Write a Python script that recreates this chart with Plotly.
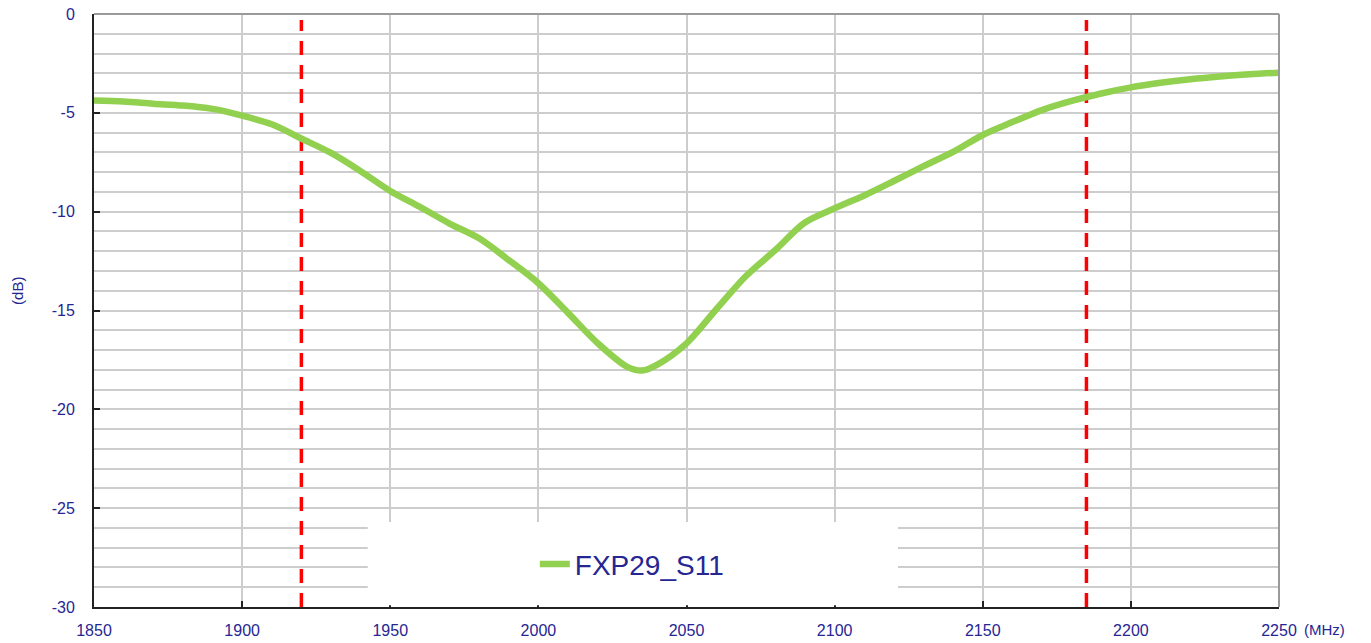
import plotly.graph_objects as go

freq_mhz = [1850, 1860, 1870, 1880, 1890, 1900, 1910, 1920, 1930, 1940,
            1950, 1960, 1970, 1980, 1990, 2000, 2010, 2020, 2030, 2035,
            2040, 2050, 2060, 2070, 2080, 2090, 2100, 2110, 2120, 2130,
            2140, 2150, 2160, 2170, 2180, 2190, 2200, 2210, 2220, 2230,
            2240, 2250]
s11_db = [-4.38, -4.43, -4.54, -4.63, -4.80, -5.14, -5.58, -6.30, -7.03, -7.95,
          -8.95, -9.76, -10.60, -11.35, -12.45, -13.62, -15.12, -16.65, -17.85, -18.04,
          -17.75, -16.66, -14.95, -13.27, -11.94, -10.55, -9.83, -9.18, -8.45, -7.70,
          -6.98, -6.12, -5.47, -4.86, -4.40, -4.02, -3.71, -3.48, -3.30, -3.16,
          -3.05, -2.97]
marker_freqs = [1920, 2185]
x_ticks = [1850, 1900, 1950, 2000, 2050, 2100, 2150, 2200, 2250]
y_ticks = [0, -5, -10, -15, -20, -25, -30]
series_name = "FXP29_S11"

TXT = "#262693"
FONT = "Liberation Sans, Arial, sans-serif"
GRID = "#CDCDCD"

fig = go.Figure()

for f in marker_freqs:
    fig.add_trace(go.Scatter(
        x=[f, f], y=[-30, -0.3], mode="lines",
        line=dict(color="#FF0000", width=3.5, dash="14px,10px"),
        showlegend=False, hoverinfo="skip"))

fig.add_trace(go.Scatter(
    x=freq_mhz, y=s11_db, mode="lines", name=series_name,
    line=dict(color="#92D050", width=6.5, shape="spline", smoothing=0.9)))

fig.update_layout(
    width=1371, height=643,
    margin=dict(l=94, r=92, t=14, b=36),
    plot_bgcolor="white", paper_bgcolor="white",
    font=dict(family=FONT, color=TXT, size=16),
    showlegend=True,
    legend=dict(x=0.372, y=0.072, xanchor="left", yanchor="middle",
                bgcolor="rgba(0,0,0,0)", font=dict(size=28, color=TXT, family=FONT),
                itemwidth=30),
    xaxis=dict(range=[1850, 2250], tickvals=x_ticks,
               ticktext=[str(v) for v in x_ticks], automargin=False,
               showgrid=True, gridcolor=GRID, gridwidth=2,
               showline=True, linecolor="#222222", linewidth=2,
               ticks="inside", ticklen=6, tickcolor="#222222", tickwidth=1.5,
               ticklabelstandoff=8,
               zeroline=False, tickfont=dict(size=16, color=TXT)),
    yaxis=dict(range=[-30, 0], tickvals=y_ticks,
               ticktext=[str(v) for v in y_ticks], automargin=False,
               showgrid=True, gridcolor=GRID, gridwidth=2,
               minor=dict(dtick=1, showgrid=True, gridcolor=GRID, gridwidth=2),
               showline=True, linecolor="#222222", linewidth=2,
               ticks="inside", ticklen=6, tickcolor="#222222", tickwidth=1.5,
               ticklabelstandoff=14,
               zeroline=False, tickfont=dict(size=16, color=TXT)),
    shapes=[
        dict(type="rect", xref="paper", yref="paper", x0=0.231, x1=0.6785,
             y0=0.003, y1=0.1433, fillcolor="white", line=dict(width=0), layer="above"),
        dict(type="line", xref="paper", yref="paper", x0=0, x1=1, y0=1, y1=1,
             line=dict(color="#9A9A9A", width=2)),
        dict(type="line", xref="paper", yref="paper", x0=1, x1=1, y0=0, y1=1,
             line=dict(color="#9A9A9A", width=2)),
    ],
    annotations=[
        dict(text="(MHz)", xref="paper", yref="paper", x=1.0, y=0, xshift=23,
             yshift=-22, xanchor="left", yanchor="middle", showarrow=False,
             font=dict(size=15, color=TXT)),
        dict(text="(dB)", xref="paper", yref="paper", x=0, y=0.533, xshift=-76,
             xanchor="center", yanchor="middle", textangle=-90, showarrow=False,
             font=dict(size=15, color=TXT)),
    ],
)

fig.write_html("out.html", config={"displayModeBar": False},
               post_script="document.body.style.margin='0';")
